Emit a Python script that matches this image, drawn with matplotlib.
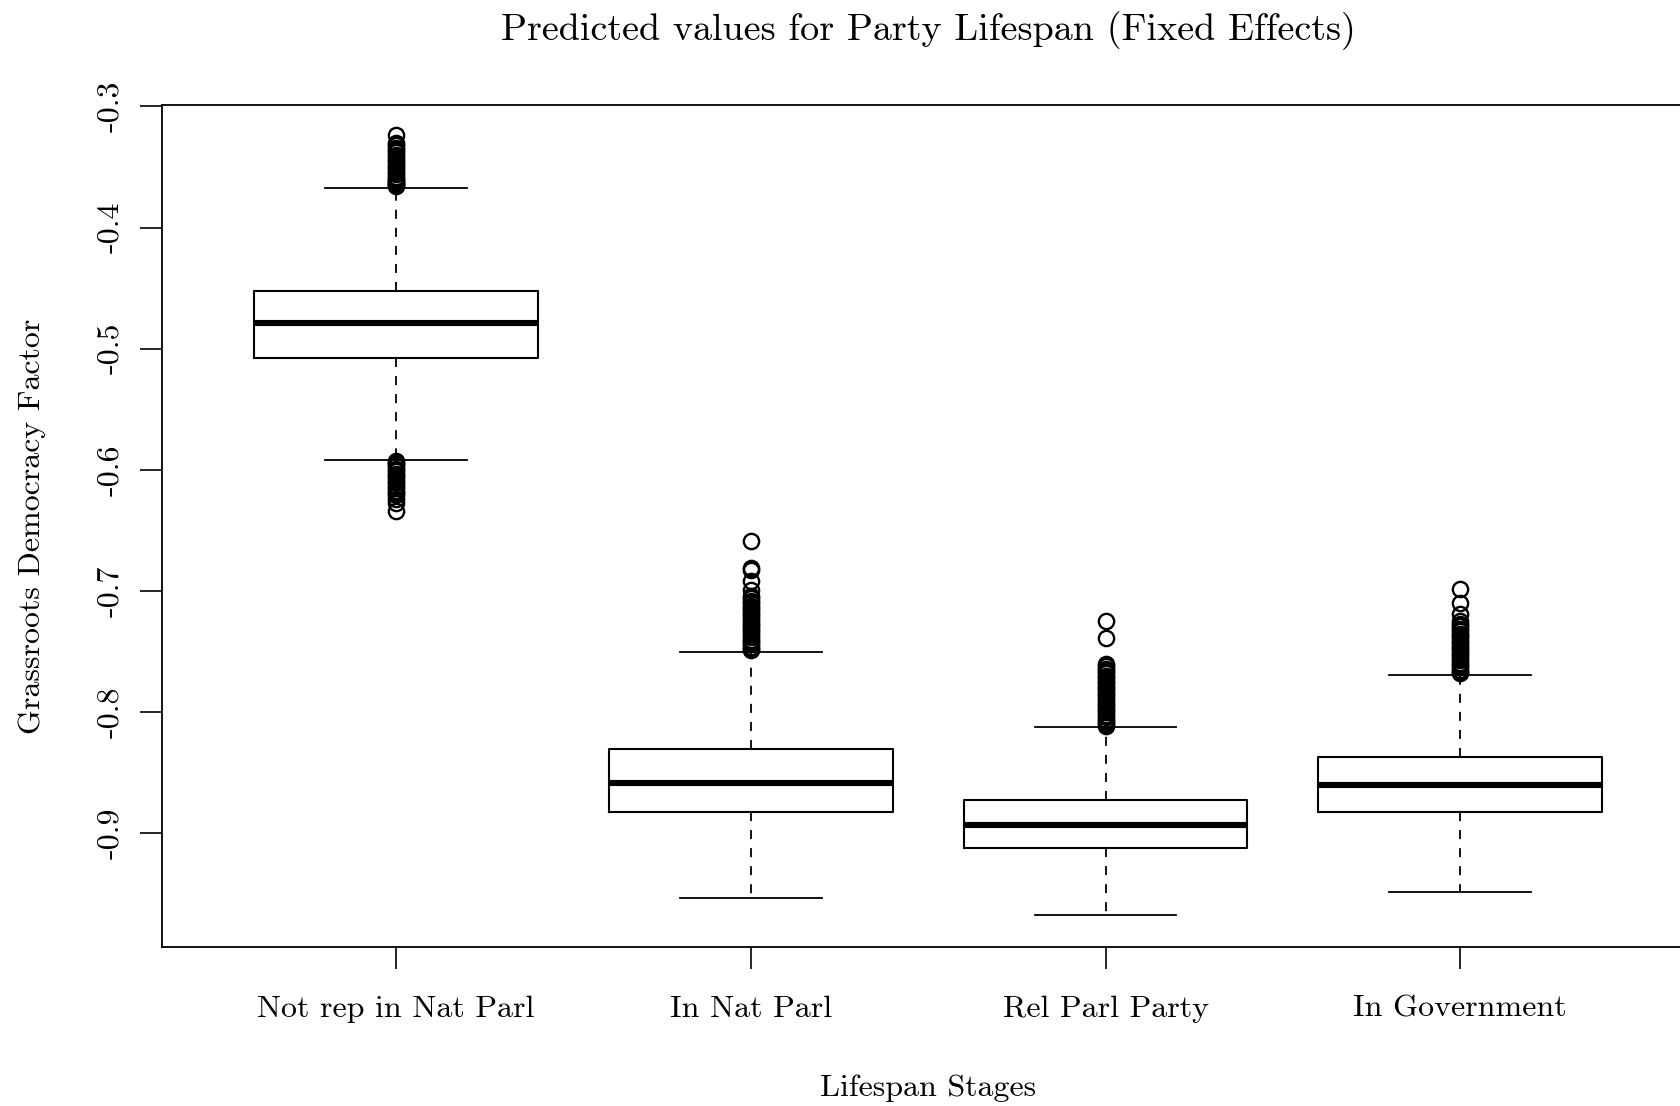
import matplotlib
matplotlib.use("Agg")
import matplotlib.pyplot as plt

plt.rcParams['font.family'] = 'cmr10'
plt.rcParams['axes.unicode_minus'] = False

# box statistics
stages = ['Not rep in Nat Parl', 'In Nat Parl', 'Rel Parl Party', 'In Government']
whis_lo = [-0.592, -0.953, -0.967, -0.948]
q1 = [-0.508, -0.882, -0.912, -0.882]
med = [-0.479, -0.858, -0.893, -0.860]
q3 = [-0.452, -0.830, -0.872, -0.837]
whis_hi = [-0.367, -0.750, -0.812, -0.769]

# outliers (dense runs estimated)
fliers_1 = [-0.324, -0.330, -0.332, -0.334, -0.336, -0.338, -0.340, -0.342, -0.344,
            -0.346, -0.348, -0.350, -0.352, -0.354, -0.356, -0.358, -0.360, -0.361,
            -0.362, -0.363, -0.364, -0.365, -0.366,
            -0.593, -0.594, -0.595, -0.597, -0.599, -0.601, -0.603, -0.605, -0.607,
            -0.609, -0.611, -0.613, -0.615, -0.617, -0.619, -0.621, -0.624, -0.627,
            -0.634]
fliers_2 = [-0.659, -0.681, -0.683, -0.692, -0.699, -0.704, -0.706, -0.708, -0.710,
            -0.712, -0.714, -0.716, -0.718, -0.720, -0.722, -0.724, -0.726, -0.728,
            -0.730, -0.732, -0.734, -0.736, -0.738, -0.740, -0.742, -0.744, -0.746,
            -0.748, -0.749]
fliers_3 = [-0.725, -0.739, -0.760, -0.762, -0.764, -0.766, -0.768, -0.770, -0.772,
            -0.774, -0.776, -0.778, -0.780, -0.782, -0.784, -0.786, -0.788, -0.790,
            -0.792, -0.794, -0.796, -0.798, -0.800, -0.802, -0.804, -0.806, -0.808,
            -0.810, -0.811]
fliers_4 = [-0.698, -0.710, -0.719, -0.725, -0.727, -0.729, -0.731, -0.733, -0.735,
            -0.737, -0.739, -0.741, -0.743, -0.745, -0.747, -0.749, -0.751, -0.753,
            -0.755, -0.757, -0.759, -0.761, -0.763, -0.765, -0.767, -0.768]
fliers = [fliers_1, fliers_2, fliers_3, fliers_4]

yticks = [-0.3, -0.4, -0.5, -0.6, -0.7, -0.8, -0.9]
ytick_labels = ['-0.3', '-0.4', '-0.5', '-0.6', '-0.7', '-0.8', '-0.9']

stats = []
for i in range(len(stages)):
    stats.append(dict(whislo=whis_lo[i], q1=q1[i], med=med[i], q3=q3[i],
                      whishi=whis_hi[i], fliers=fliers[i], label=stages[i]))

fig = plt.figure(figsize=(16.81, 11.06), dpi=100)
ax = fig.add_axes([0.0963, 0.1440, 0.9117, 0.7609])

ax.bxp(stats, positions=[1, 2, 3, 4], widths=0.8, showfliers=True,
       boxprops=dict(color='black', lw=1.5),
       medianprops=dict(color='black', lw=4.4, solid_capstyle='butt'),
       whiskerprops=dict(color='black', lw=1.3, linestyle=(0, (5, 5))),
       capprops=dict(color='black', lw=1.3),
       capwidths=0.4,
       flierprops=dict(marker='o', markerfacecolor='none', markeredgecolor='black',
                       markersize=11, markeredgewidth=1.7))

ax.set_xlim(0.34, 4.66)
ax.set_ylim(-0.9935, -0.2990)

ax.set_yticks(yticks)
ax.set_yticklabels(ytick_labels, rotation=90, va='center')
ax.set_xticks([1, 2, 3, 4])
ax.set_xticklabels(stages)
ax.tick_params(axis='both', direction='out', length=16, width=1.2, labelsize=23)
ax.tick_params(axis='x', pad=19)
ax.tick_params(axis='y', pad=11)
for s in ax.spines.values():
    s.set_linewidth(1.3)

ax.set_title('Predicted values for Party Lifespan (Fixed Effects)', fontsize=27.5, pad=47)
ax.set_xlabel('Lifespan Stages', fontsize=23, labelpad=37)
ax.set_ylabel('Grassroots Democracy Factor', fontsize=23, labelpad=37)

fig.savefig('out.png', dpi=100)
